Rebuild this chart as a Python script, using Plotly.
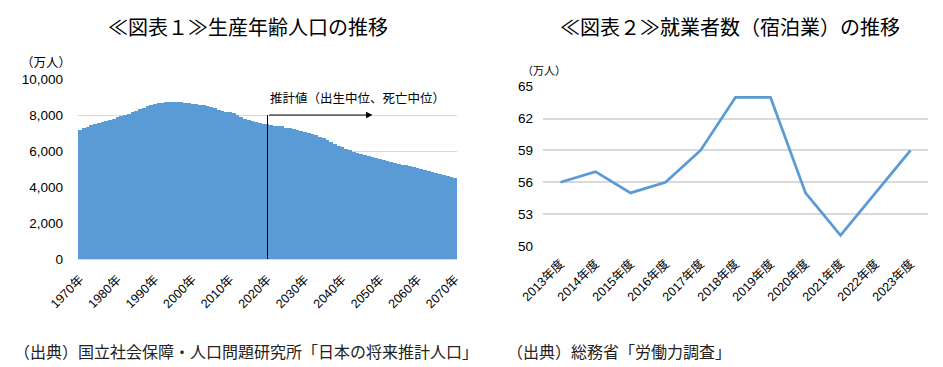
import plotly.graph_objects as go

# ---- Data: chart 1 (working-age population, 万人) ----
years = list(range(1970, 2071))
population = [
    7157, 7260, 7359, 7450, 7498, 7581, 7631, 7684, 7733, 7784,
    7883, 7929, 7995, 8068, 8162, 8251, 8331, 8412, 8486, 8541,
    8590, 8656, 8690, 8702, 8703, 8726, 8716, 8704, 8692, 8676,
    8638, 8614, 8571, 8540, 8508, 8442, 8373, 8301, 8230, 8149,
    8174, 8134, 8018, 7901, 7785, 7728, 7656, 7596, 7545, 7507,
    7509, 7450, 7421, 7395, 7373, 7310, 7278, 7242, 7199, 7142,
    7076, 7015, 6950, 6880, 6800, 6722, 6621, 6518, 6414, 6311,
    6213, 6131, 6051, 5973, 5900, 5832, 5770, 5712, 5655, 5598,
    5540, 5493, 5446, 5398, 5350, 5302, 5258, 5214, 5169, 5124,
    5078, 5026, 4973, 4919, 4864, 4809, 4755, 4700, 4645, 4590,
    4535,
]
tick_years = [1970, 1980, 1990, 2000, 2010, 2020, 2030, 2040, 2050, 2060, 2070]
tick_year_labels = [f"{y}年" for y in tick_years]
y1_ticks = [0, 2000, 4000, 6000, 8000, 10000]
y1_labels = ["0", "2,000", "4,000", "6,000", "8,000", "10,000"]

# ---- Data: chart 2 (employed persons in accommodation, 万人) ----
fiscal_years = ["2013年度", "2014年度", "2015年度", "2016年度", "2017年度", "2018年度",
                "2019年度", "2020年度", "2021年度", "2022年度", "2023年度"]
employed = [56, 57, 55, 56, 59, 64, 64, 55, 51, 55, 59]
y2_ticks = [50, 53, 56, 59, 62, 65]

# The page body has an 8px default margin; size the figure to fit the window.
OFF = 8
W, H = 943 - OFF, 367 - OFF
def px_x(p): return (p - OFF) / W
def px_y(p): return 1 - (p - OFF) / H

BLUE = "#5B9BD5"
GRID = "#D9D9D9"
NUMFONT = "Arial, 'Liberation Sans', 'Noto Sans CJK JP'"
JPFONT = "'Noto Sans CJK JP', sans-serif"

fig = go.Figure()
fig.add_trace(go.Bar(x=years, y=population, marker=dict(color=BLUE, line=dict(width=0)),
                     width=1.0, xaxis="x", yaxis="y", showlegend=False))
fig.add_trace(go.Scatter(x=fiscal_years, y=employed, mode="lines",
                         line=dict(color=BLUE, width=2.8),
                         xaxis="x2", yaxis="y2", showlegend=False))

fig.update_layout(
    width=W, height=H,
    margin=dict(l=0, r=0, t=0, b=0),
    paper_bgcolor="white", plot_bgcolor="white",
    font=dict(family=NUMFONT, size=12, color="#000000"),
    bargap=0,
    xaxis=dict(domain=[px_x(78), px_x(457)], range=[1969.5, 2070.5],
               tickvals=tick_years, ticktext=tick_year_labels, tickangle=-45,
               showgrid=False, zeroline=False, showline=True, linecolor=GRID,
               ticks="", tickfont=dict(size=12.5), ticklabelstandoff=7, anchor="y",
               automargin=False),
    yaxis=dict(domain=[px_y(259.3), px_y(79)], range=[0, 10000],
               tickvals=y1_ticks, ticktext=y1_labels,
               showgrid=True, gridcolor=GRID, zeroline=False, showline=False,
               ticks="", tickfont=dict(size=13.5), ticklabelstandoff=14, anchor="x",
               automargin=False),
    xaxis2=dict(domain=[px_x(543), px_x(928)], range=[-0.5, 10.5], type="category",
                tickangle=-45, showgrid=False, zeroline=False, showline=False,
                ticks="", tickfont=dict(size=12.5), ticklabelstandoff=7, anchor="y2",
                automargin=False),
    yaxis2=dict(domain=[px_y(246), px_y(86.7)], range=[50, 65],
                tickvals=y2_ticks, showgrid=True, gridcolor=GRID, gridwidth=1.5,
                zeroline=False, showline=False, ticks="", tickfont=dict(size=13.5),
                ticklabelstandoff=9, anchor="x2", automargin=False),
)

# Projection marker on chart 1
fig.add_shape(type="line", xref="x", yref="y", x0=2020, x1=2020, y0=0, y1=8000,
              line=dict(color="black", width=1))
fig.add_annotation(xref="x", yref="y", axref="x", ayref="y",
                   x=2048, y=8000, ax=2020, ay=8000, text="", showarrow=True,
                   arrowhead=2, arrowsize=1.3, arrowwidth=1, arrowcolor="black",
                   standoff=0, startstandoff=0)
fig.add_annotation(xref="x", yref="y", x=2043.9, y=9000, text="推計値（出生中位、死亡中位）",
                   showarrow=False, font=dict(family=JPFONT, size=12.5, color="black"))

# Titles, units, sources
texts = [
    ("≪図表１≫生産年齢人口の推移", 248.5, 27, 20),
    ("≪図表２≫就業者数（宿泊業）の推移", 729.5, 27, 20),
]
for t, x, y, s in texts:
    fig.add_annotation(xref="paper", yref="paper", x=px_x(x), y=px_y(y), text=t,
                       showarrow=False, xanchor="center", yanchor="middle",
                       font=dict(family=JPFONT, size=s, color="black"))

fig.add_annotation(xref="paper", yref="paper", x=px_x(19), y=px_y(62), text="（万人）",
                   showarrow=False, xanchor="left", yanchor="middle",
                   font=dict(family=JPFONT, size=12.5, color="black"))
fig.add_annotation(xref="paper", yref="paper", x=px_x(520), y=px_y(70), text="（万人）",
                   showarrow=False, xanchor="left", yanchor="middle",
                   font=dict(family=JPFONT, size=11, color="black"))

fig.add_annotation(xref="paper", yref="paper", x=px_x(12), y=px_y(351),
                   text="（出典）国立社会保障・人口問題研究所「日本の将来推計人口」",
                   showarrow=False, xanchor="left", yanchor="middle",
                   font=dict(family=JPFONT, size=16, color="#222222"))
fig.add_annotation(xref="paper", yref="paper", x=px_x(505), y=px_y(351),
                   text="（出典）総務省「労働力調査」",
                   showarrow=False, xanchor="left", yanchor="middle",
                   font=dict(family=JPFONT, size=16, color="#222222"))

fig.write_html("out.html")
